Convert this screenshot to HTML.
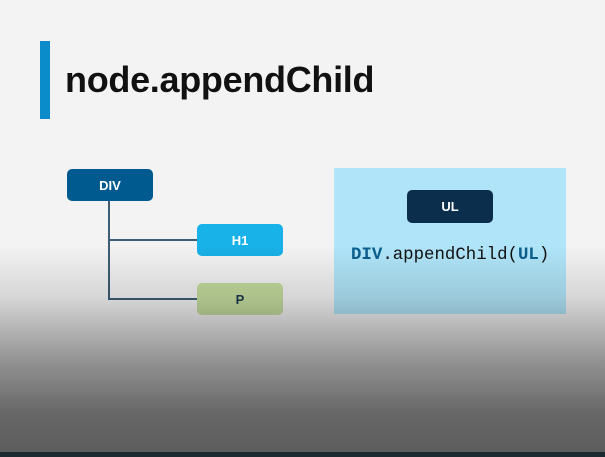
<!DOCTYPE html>
<html><head><meta charset="utf-8"><style>
*{margin:0;padding:0;box-sizing:border-box}
body{width:605px;height:457px;overflow:hidden;background:#f3f3f3;position:relative;font-family:"Liberation Sans",sans-serif}
.a{position:absolute}
.box{position:absolute;border-radius:5px;color:#fff;font-weight:bold;font-size:13px;display:flex;align-items:center;justify-content:center}
.ln{position:absolute;background:#3d5d74}
</style></head><body>
<div class="a" style="left:40px;top:41px;width:10px;height:78px;background:#0a8ccb"></div>
<div class="a" style="left:65px;top:59px;font-size:36px;font-weight:bold;color:#111;letter-spacing:-0.3px">node.appendChild</div>

<div class="ln" style="left:108px;top:201px;width:2px;height:99px"></div>
<div class="ln" style="left:108px;top:239px;width:90px;height:2px"></div>
<div class="ln" style="left:108px;top:298px;width:90px;height:2px"></div>
<div class="box" style="left:67px;top:169px;width:86px;height:32px;background:#005a8f">DIV</div>
<div class="box" style="left:197px;top:224px;width:86px;height:32px;background:#18b1e8">H1</div>
<div class="box" style="left:197px;top:283px;width:86px;height:32px;background:#c4dc9e;color:#1e3a4e">P</div>

<div class="a" style="left:334px;top:168px;width:232px;height:146px;background:#b0e5f9"></div>
<div class="box" style="left:407px;top:190px;width:86px;height:33px;background:#0a2e4b">UL</div>
<div class="a" style="left:351px;top:246px;font-family:'Liberation Mono',monospace;font-size:17.4px;color:#111"><b style="color:#0b5f8e">DIV</b>.appendChild(<b style="color:#0b5f8e">UL</b>)</div>

<div class="a" style="left:0;top:245px;width:605px;height:212px;background:linear-gradient(to bottom,rgba(0,0,0,0) 0%,rgba(0,0,0,0.12) 25%,rgba(0,0,0,0.4) 55%,rgba(0,0,0,0.58) 80%,rgba(0,0,0,0.62) 100%)"></div>
<div class="a" style="left:0;top:452px;width:605px;height:5px;background:#1d2a30"></div>
</body></html>
